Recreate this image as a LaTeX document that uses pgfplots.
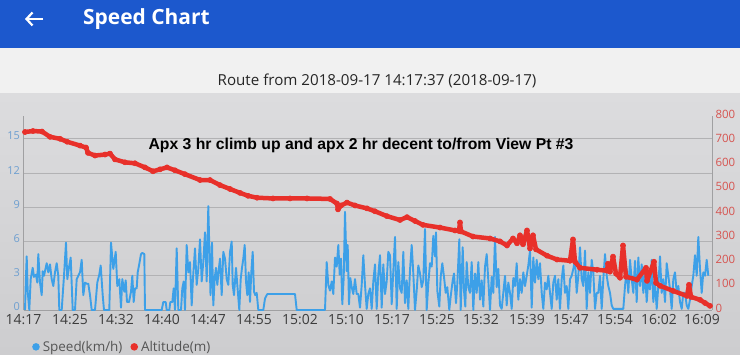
\documentclass[border=0pt]{standalone}
\usepackage{pgfplots}
\pgfplotsset{compat=1.18}
\usetikzlibrary{arrows.meta}
\usepackage{fontspec}
\setmainfont{Open Sans}
\newfontfamily\arialfont{Liberation Sans}
\definecolor{headerblue}{HTML}{1C58CD}
\definecolor{bandwhite}{HTML}{F1F1F1}
\definecolor{greytop}{HTML}{DCDCDE}
\definecolor{greybot}{HTML}{CDCDCF}
\definecolor{speedblue}{HTML}{3DA0E8}
\definecolor{altred}{HTML}{E8302A}
\definecolor{leftblue}{HTML}{6E9FD0}
\definecolor{rightred}{HTML}{D65450}
\definecolor{gridgrey}{HTML}{B2B2B4}
\definecolor{axisgrey}{HTML}{A0A0A2}
\definecolor{xlabelgrey}{HTML}{3C3C3C}
\definecolor{legendgrey}{HTML}{555555}
\begin{document}
\begin{tikzpicture}
\path[use as bounding box] (0,0) rectangle (740bp,355bp);
\shade[top color=greytop, bottom color=greybot] (0,0) rectangle (740bp,262bp);
\fill[bandwhite] (0,262bp) rectangle (740bp,307bp);
\fill[headerblue] (0,307bp) rectangle (740bp,355bp);
\draw[white, line width=2.2bp, -{Straight Barb[length=6bp,width=13bp]}] (43bp,336bp) -- (25bp,336bp);
\node[white, font=\fontsize{21}{24}\selectfont\bfseries, anchor=west, inner sep=0] at (83bp,336bp) {Speed Chart};
\node[font=\fontsize{15.2}{18}\selectfont, text=black!85] at (377bp,274bp) {Route from 2018-09-17 14:17:37 (2018-09-17)};

\begin{axis}[
  scale only axis, width=688.5bp, height=194bp, at={(23.5bp,45bp)}, anchor=south west,
  xmin=23.5, xmax=712, ymin=0, ymax=17,
  axis x line*=bottom, axis y line*=left,
  axis line style={-, draw=axisgrey, line width=0.8bp},
  xtick={23.5,70,116,162,208,254,300,346,392,437,481,527,571,615,659,702},
  xticklabels={14:17,14:25,14:32,14:40,14:47,14:55,15:02,15:10,15:17,15:25,15:32,15:39,15:47,15:54,16:02,16:09},
  ytick={0,3,6,9,12,15},
  ymajorgrids, grid style={gridgrey, line width=0.7bp},
  major tick length=0pt, tick style={draw=none},
  x tick label style={font=\fontsize{14}{16}\selectfont, text=xlabelgrey, yshift=-1bp},
  y tick label style={font=\fontsize{11}{13}\selectfont, text=leftblue, yshift=3bp},
  /pgf/number format/assume math mode=true,
]
\addplot[speedblue, line width=1.9bp, line join=round] coordinates {
(25,0)(26,3.0)(26.7,4.7)(27.7,1.6)(29.3,0)(30.7,2.7)(32.7,3.7)(34,2.9)(36,3.1)(37.3,2.4)(38.3,4.9)(40,2.4)(41.7,1.3)(42.7,3.4)(44,3.0)(46.7,4.1)(48.3,3.3)(50,4.0)(51.7,2.7)(53.3,2.1)(55,3.3)(56.7,4.1)(58.3,3.0)(59.3,0)(61.7,0)(64,3.0)(66,5.9)(67.3,2.7)(69.3,3.9)(70.7,4.6)(72.7,0)(75,0)(76.7,2.7)(78.3,3.0)(80,3.3)(81.7,4.4)(83.3,1.3)(85,2.4)(86.7,2.3)(88.3,2.3)(90,1.3)(91.7,0)(95,0)(97.3,2.4)(99.3,3.1)(100.7,3.9)(102.7,1.3)(104,0)(109.3,0)(111,5.9)(113.3,3.6)(115.7,5.1)(117.3,2.1)(119.3,2.7)
(121,0.2)(122.3,2.7)(124.3,1.6)(125.7,2.6)(127,0.7)(129,0.7)(131,1.6)(132.3,3.0)(133.7,0.7)(135,1.9)(136.7,1.9)(137.7,3.3)(139,3.9)(141,4.9)(142.3,5.0)(144.3,4.9)(145,0)(161.7,0)(163.3,0.7)(165.7,0.7)(166.7,0)(169.3,0)(170.3,0.7)(172.3,0.7)(173.7,1.9)(175,0)(176.7,5.4)(178.3,0)(181,0)(182.3,1.9)(183.7,2.5)(185,0)(186.7,5.7)(188.3,3.3)(190,4.2)(191.7,0.4)(193,2.8)(195,5.4)(196.7,2.2)(198.3,3.6)(200,6.2)(201.7,2.5)(203.3,4.2)(205,6.8)(206.7,2.5)(208.3,9.1)(210.5,1.3)(212,5.9)(213.3,0.4)(214.7,2.8)
(216,3.7)(217.3,2.2)(218.7,3.5)(220,4.5)(221.7,1.3)(223.3,5.1)(225,4.5)(226.7,2.7)(228.3,2.2)(230,5.1)(231.7,6.0)(232.7,2.2)(234,1.3)(236,3.7)(237.3,2.2)(239.3,0)(240.7,2.7)(242,3.7)(243.3,4.5)(244.7,5.7)(246,2.5)(247.3,1.3)(248.7,3.3)(250,0.7)(251.3,3.3)(252.7,5.1)(254,1.6)(255.3,1.3)(256.7,1.5)(258.3,0)(263.3,0)(265,1.0)(267.3,1.4)(295,1.4)(296.7,0)(325,0)
(326.7,4.2)(328.3,2.2)(330,1.7)(331.7,2.5)(333.3,1.4)(335,4.6)(336.7,3.8)(338.3,5.7)(339.7,3.1)(341,4.5)(342.3,0.5)(343.7,2.8)(345,8.6)(346.7,3.4)(347.7,5.7)(349,0.5)(350.3,2.8)(351.7,2.0)(353.3,1.4)(355,2.7)(356.7,1.4)(358.3,1.4)(360,0.2)(361.7,2.2)(363.3,4.8)(365,2.2)(366.7,0.1)(368.3,1.4)(370,1.9)(371.7,0.1)(373.3,2.5)(375,4.0)(376.7,0.1)(378.3,3.1)(380,4.8)(381.7,0.2)(383.3,4.0)(385,1.4)(386.7,2.5)(388.3,5.1)(390,4.8)(391.7,0.5)(393.3,3.4)(395,6.4)(396.7,0.1)(398.3,4.2)(400,1.9)
(401.7,1.5)(403.3,5.1)(405,0.6)(406.7,2.6)(408.3,0.1)(410,3.5)(411.7,5.7)(413.3,3.2)(415,0)(416.7,1.7)(418.3,3.9)(420,3.2)(421.7,2.0)(423.3,2.6)(425,7.1)(426.7,0)(428.3,2.3)(430,4.1)(431.7,3.8)(433.3,6.5)(435,4.7)(436,6.8)(437.3,1.7)(439.3,0.3)(440.7,2.9)(442.3,4.1)(444,2.9)(445.7,1.5)(447.3,2.0)(449.3,0)(450.7,1.2)(452.7,2.6)(454,3.2)(456,0.6)(457.3,2.3)(459.3,6.2)(460.7,0)(462.7,5.5)(464,1.7)(465.3,0.3)(466.7,4.2)(468.3,2.0)(470,1.5)(471.7,4.2)(473.3,0)(475,3.2)(476.7,1.5)(478.3,4.2)(480,0.9)(481.7,2.6)(483.3,0.3)(485,3.8)(486.7,4.9)(488.3,2.6)(490,0)(491.7,2.9)(493.3,1.5)(495,6.4)(496.7,2.0)
(498.3,3.6)(500,0.4)(501.7,0.1)(503.3,1.5)(505,3.0)(506.7,0.4)(508.3,2.4)(510,1.5)(511.7,0.1)(513.3,2.8)(515,2.1)(516.7,4.1)(518.3,0.9)(520,2.7)(521.7,1.5)(523.3,3.3)(525,2.1)(526.7,3.0)(528.3,3.9)(530,5.2)(531.7,0.2)(533.3,4.6)(535,2.4)(536.7,4.4)(538.3,2.7)(540,4.1)(541.7,1.5)(543.3,0.1)(545,2.4)(546.7,1.8)(548.3,3.0)(550,1.5)(551.7,0.1)(553.3,2.4)(555,3.0)(556.7,0.9)(558.3,2.7)(560,0.1)(561.7,2.7)(563.3,3.9)(565,1.5)(566.7,2.1)(568.3,0.1)(570,2.7)(571.7,3.0)(573.3,3.6)(575,4.4)(576.7,1.5)(578.3,3.0)(580,5.5)(581.7,2.7)(583.3,2.1)(585,5.2)(586.7,0.1)(588.3,3.3)(590,1.5)(591.7,4.4)(593.3,3.3)(595,0.1)
(596.7,1.5)(598.3,1.5)(600,3.0)(601.7,0.1)(603.3,2.7)(605,4.9)(606.7,3.0)(608.3,2.1)(610,1.5)(611.7,0.4)(613.3,0.1)(623.3,0.1)(625,2.1)(626.7,3.6)(628.3,1.5)(630,4.4)(631.7,2.7)(633.3,1.5)(635,4.3)(636.7,0.7)(638.3,4.6)(640,2.1)(641.7,4.0)(643.3,1.5)(645,3.3)(646.7,0.7)(648.3,2.7)(650,1.8)(651.7,4.4)(653.3,0.7)(655,2.4)(656.7,0.1)(658.3,2.1)(660,4.7)(661.7,1.5)(663.3,2.7)(665,0.7)(666.7,4.1)(668.3,3.0)(670,1.8)(671.7,0.1)(673.3,2.7)(675,3.3)(676.7,1.5)(678.3,2.1)(680,0.7)(681.7,0.1)(683.3,1.5)(685,1.5)(686.7,0.4)(688.3,0.1)(690,0.9)(691.7,2.1)(693.3,3.0)(695,4.8)(696.7,3.0)(698.3,6.4)(700,3.6)(701.7,1.5)(703.3,3.3)(705,3.0)(706.7,4.4)(708.3,3.0)
};
\node[font=\arialfont\bfseries\fontsize{15.8}{18}\selectfont, text=black] at (axis cs:361,14.4) {Apx 3 hr climb up and apx 2 hr decent to/from View Pt \#3};
\end{axis}

\begin{axis}[
  scale only axis, width=688.5bp, height=194bp, at={(23.5bp,45bp)}, anchor=south west,
  xmin=23.5, xmax=712, ymin=0, ymax=800,
  axis x line=none, axis y line*=right,
  axis line style={-, draw=axisgrey, line width=0.8bp},
  ytick={0,100,200,300,400,500,600,700,800},
  major tick length=0pt, tick style={draw=none},
  y tick label style={font=\fontsize{11.5}{13}\selectfont, text=rightred, yshift=2bp},
  /pgf/number format/assume math mode=true,
  legend style={at={(0.008,-0.19)}, anchor=west, draw=none, fill=none,
    legend columns=2, font=\fontsize{13.5}{16}\selectfont, text=legendgrey,
    /tikz/every odd column/.append style={column sep=1bp},
    /tikz/every even column/.append style={column sep=6bp}},
  legend image code/.code={\fill[#1, draw=none] (0.3em,0) circle (3.8bp);},
]
\addlegendimage{speedblue}
\addlegendentry{Speed(km/h)}
\addplot[altred, line width=4.5bp, line join=round, mark=*, mark size=2.6bp, mark options={line width=0.5bp, fill=altred}] coordinates {
(25,734)(33,738)(42,736)(50,714)(60,706)(67,694)(80,678)(86,670)(88,648)(95,637)(105,641)(110,645)(115,621)(125,609)(135,605)(145,588)(153,572)(160,580)(167,588)(175,576)(185,560)(200,536)(210,536)(220,515)(230,499)(240,483)(248,471)(257,463)(273,460)(290,460)(307,460)(330,458)(337,439)(338,415)(341,431)(347,443)(355,431)(367,419)(375,407)(387,387)(400,371)(407,383)(415,367)(423,351)(440,340)(455,328)(459,326)(460,361)(461,324)(473,303)(490,295)(500,283)(507,266)(513,295)(517,275)(520,308)(523,271)(527,328)(530,254)(533,308)(536,250)(547,224)(557,208)(570,203)(573,291)(575,199)(580,174)(597,166)(607,162)(608,191)(610,158)(613,220)(616,150)(620,133)(623,266)(626,137)(637,125)(646,174)(647,120)(654,199)(656,112)(660,100)(673,79)(687,58)(689,104)(691,54)(700,42)(705,29)(710,17)
};
\addlegendentry{Altitude(m)}
\end{axis}
\end{tikzpicture}
\end{document}
